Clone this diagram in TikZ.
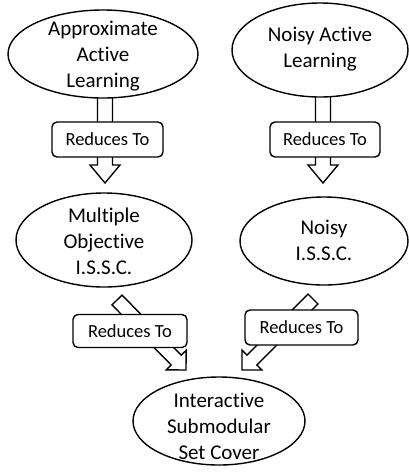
\documentclass[tikz,border=0pt]{standalone}
\usepackage{fontspec}
\setmainfont{Carlito}[Ligatures=NoCommon]
\usetikzlibrary{shapes.geometric,calc}
\tikzset{
  ell/.style={draw, ellipse, line width=1.4pt, inner sep=0pt, fill=white},
  lbl/.style={align=center, font=\fontsize{21}{26}\selectfont, inner sep=0pt},
  redbox/.style={draw, rounded corners=5pt, line width=1.4pt, fill=white, inner sep=0pt,
     font=\fontsize{18.5}{22}\selectfont},
  blk/.style={draw, line width=1.4pt, fill=white, line join=miter}
}
\newcommand\blockarr[5]{%
  \draw[blk] ($(#1)!#3!90:(#2)$)
    -- ($(#2)!#5!(#1)!#3!90:(#2)$)
    -- ($(#2)!#5!(#1)!#4!90:(#2)$)
    -- (#2)
    -- ($(#2)!#5!(#1)!#4!-90:(#2)$)
    -- ($(#2)!#5!(#1)!#3!-90:(#2)$)
    -- ($(#1)!#3!-90:(#2)$) -- cycle;}
\begin{document}
\begin{tikzpicture}[x=1pt,y=-1pt]
\useasboundingbox[fill=white] (0,0) rectangle (409,472);
% arrow end points
\coordinate (a1t) at (105,90);
\coordinate (a1h) at (105,183);
\coordinate (a2t) at (323,90);
\coordinate (a2h) at (323,183);
\coordinate (a3t) at (117,300);
\coordinate (a3h) at (186,370);
\coordinate (a4t) at (313,299);
\coordinate (a4h) at (242,370);
\blockarr{a1t}{a1h}{7.5pt}{15pt}{18pt}
\blockarr{a2t}{a2h}{7.5pt}{15pt}{18pt}
\blockarr{a3t}{a3h}{7pt}{14pt}{14pt}
\blockarr{a4t}{a4h}{7pt}{14pt}{14pt}
% ellipses
\node[ell, minimum width=190pt, minimum height=88pt] (e1) at (103,54) {};
\node[lbl] (e1t) at (103,56) {Approximate\\Active\\Learning};
\node[ell, minimum width=176pt, minimum height=94pt] (e2) at (320,50) {};
\node[lbl] (e2t) at (320,49) {Noisy Active\\Learning};
\node[ell, minimum width=176pt, minimum height=94pt] (e3) at (104,240) {};
\node[lbl] (e3t) at (104,241) {Multiple\\Objective\\I.S.S.C.};
\node[ell, minimum width=168pt, minimum height=88pt] (e4) at (324,241) {};
\node[lbl] (e4t) at (324,240) {Noisy\\I.S.S.C.};
\node[ell, minimum width=172pt, minimum height=88pt] (e5) at (219,421) {};
\node[lbl] (e5t) at (219,426) {Interactive\\Submodular\\Set Cover};
% boxes
\node[redbox, minimum width=111pt, minimum height=35pt] (b1) at (107.5,139.5) {Reduces To};
\node[redbox, minimum width=110pt, minimum height=35pt] (b2) at (325,139.5) {Reduces To};
\node[redbox, minimum width=114pt, minimum height=33pt] (b3) at (130,331) {Reduces To};
\node[redbox, minimum width=113pt, minimum height=35pt] (b4) at (301.5,327.5) {Reduces To};
\end{tikzpicture}
\end{document}
